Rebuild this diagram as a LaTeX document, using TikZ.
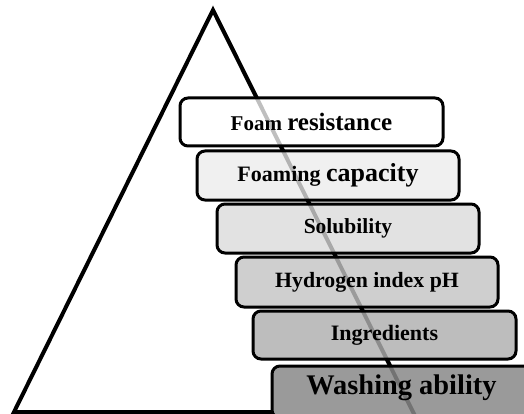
\documentclass[tikz,border=0pt]{standalone}
\usepackage{fontspec}
\setmainfont{Liberation Serif}
\definecolor{f1}{HTML}{FFFFFF}
\definecolor{f2}{HTML}{F0F0F0}
\definecolor{f3}{HTML}{E2E2E2}
\definecolor{f4}{HTML}{CFCFCF}
\definecolor{f5}{HTML}{BDBDBD}
\definecolor{f6}{HTML}{9A9A9A}
\tikzset{
  tier/.style={draw=black, line width=3pt, rounded corners=8pt, inner sep=0pt, font=\bfseries},
  edge/.style={line width=4pt, line join=miter, line cap=butt}
}
\begin{document}
\begin{tikzpicture}[x=1pt,y=-1pt]
\useasboundingbox (0,0) rectangle (524,414);
\coordinate (apex) at (213,10);
\coordinate (bl) at (14,412);
\coordinate (br) at (417,420);
\coordinate (bm) at (300,412);
\draw[edge] (bm) -- (bl) -- (apex) -- (br);
\node[tier, fill=f1, minimum width=263pt, minimum height=48pt] (t1) at (311.5,122) {\fontsize{21}{21}\selectfont Foam \fontsize{25}{25}\selectfont resistance};
\node[tier, fill=f2, minimum width=262pt, minimum height=49pt] (t2) at (328,175.5) {\fontsize{22}{22}\selectfont Foaming \fontsize{26}{26}\selectfont capacity};
\node[tier, fill=f3, minimum width=262pt, minimum height=49pt] (t3) at (348,228.5) {\fontsize{21.5}{21.5}\selectfont Solubility};
\node[tier, fill=f4, minimum width=262pt, minimum height=50pt] (t4) at (367,282) {\fontsize{21.8}{21.8}\selectfont Hydrogen index pH};
\node[tier, fill=f5, minimum width=263pt, minimum height=48pt] (t5) at (384.5,335) {\fontsize{22}{22}\selectfont Ingredients};
\node[tier, fill=f6, minimum width=270pt, minimum height=52pt] (t6) at (407,392) {};
\node[font=\bfseries] (t6l) at (401.5,388) {\fontsize{28.4}{28.4}\selectfont Washing ability};
\draw[line width=4pt, black, opacity=0.25] (apex) -- (br);
\end{tikzpicture}
\end{document}
